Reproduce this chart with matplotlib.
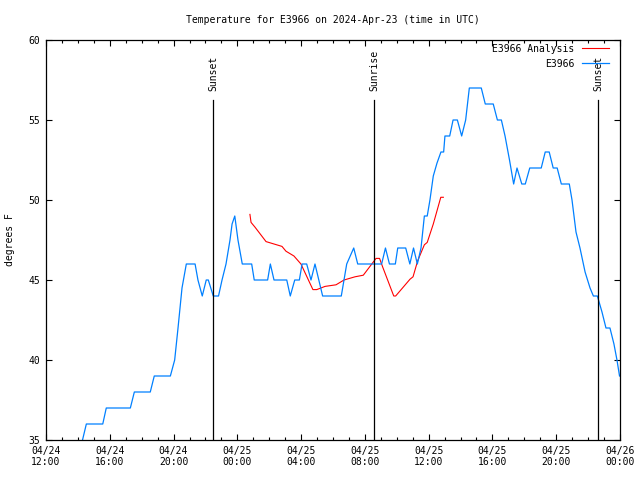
import matplotlib

matplotlib.use("Agg")

import matplotlib.pyplot as plt
from matplotlib.ticker import FixedLocator, MultipleLocator
import pandas as pd


BASE_TIME = pd.Timestamp("2024-04-24 12:00")

# hours since 04/24 12:00 UTC
obs_hours = [
    0.00, 2.13, 2.29, 2.53, 3.56, 3.78, 5.29, 5.54, 6.54, 6.79,
    7.80, 8.07, 8.28, 8.53, 8.80, 9.35, 9.53, 9.80, 10.05, 10.18,
    10.49, 10.82, 11.04, 11.29, 11.54, 11.67, 11.84, 12.04, 12.31, 12.90,
    13.06, 13.90, 14.07, 14.30, 15.10, 15.32, 15.60, 15.89, 16.06, 16.35,
    16.62, 16.87, 17.35, 18.52, 18.86, 19.30, 19.55, 21.05, 21.29, 21.54,
    21.91, 22.06, 22.56, 22.82, 23.05, 23.29, 23.52, 23.73, 23.91, 24.08,
    24.29, 24.52, 24.77, 24.94, 25.02, 25.32, 25.53, 25.80, 26.07, 26.32,
    26.55, 27.30, 27.55, 28.05, 28.31, 28.56, 28.79, 29.07, 29.33, 29.54,
    29.84, 30.06, 30.34, 31.06, 31.31, 31.56, 31.81, 32.06, 32.32, 32.82,
    32.99, 33.24, 33.49, 33.81, 34.12, 34.33, 34.58, 34.87, 35.12, 35.37,
    35.62, 35.81, 35.97,
]
obs_temps = [
    34, 34, 35, 36, 36, 37, 37, 38, 38, 39,
    39, 40, 42, 44.5, 46, 46, 45, 44, 45, 45,
    44, 44, 45, 46, 47.5, 48.5, 49, 47.5, 46, 46,
    45, 45, 46, 45, 45, 44, 45, 45, 46, 46,
    45, 46, 44, 44, 46, 47, 46, 46, 47, 46,
    46, 47, 47, 46, 47, 46, 47, 49, 49, 50,
    51.5, 52.3, 53, 53, 54, 54, 55, 55, 54, 55,
    57, 57, 56, 56, 55, 55, 54, 52.5, 51, 52,
    51, 51, 52, 52, 53, 53, 52, 52, 51, 51,
    50, 48, 47, 45.5, 44.5, 44, 44, 43, 42, 42,
    41, 40, 39,
]

analysis_hours = [
    12.79, 12.86, 13.11, 13.80, 14.30, 14.80, 15.05, 15.55, 15.99, 16.74,
    16.98, 17.50, 18.19, 18.69, 19.38, 19.90, 20.70, 20.92, 21.12, 21.81,
    21.93, 22.83, 23.02, 23.31, 23.73, 23.91, 24.29, 24.76, 24.92,
]
analysis_temps = [
    49.1, 48.6, 48.3, 47.4, 47.25, 47.1, 46.8, 46.5, 46.0, 44.4,
    44.4, 44.6, 44.7, 45.0, 45.2, 45.3, 46.35, 46.35, 45.8, 44.0,
    44.0, 45.05, 45.2, 46.2, 47.2, 47.35, 48.5, 50.17, 50.17,
]

sun_hours = [10.48, 20.58, 34.63]
sun_labels = ["Sunset", "Sunrise", "Sunset"]

STATION = "E3966"


def main() -> None:
    plt.rcParams["font.family"] = "DejaVu Sans Mono"
    plt.rcParams["font.size"] = 7

    fig = plt.figure(figsize=(6.4, 4.8), dpi=100)
    ax = fig.add_axes([46 / 640, 40 / 480, 574 / 640, 400 / 480])

    ax.plot(
        analysis_hours,
        analysis_temps,
        color="#ff0000",
        linewidth=0.8,
        label=f"{STATION} Analysis",
    )
    ax.plot(
        obs_hours,
        obs_temps,
        color="#0080ff",
        linewidth=0.9,
        label=STATION,
    )

    for hour, label in zip(sun_hours, sun_labels):
        ax.plot([hour, hour], [35, 56.25], color="black", linewidth=0.9)
        ax.text(
            hour,
            56.8,
            label,
            rotation=90,
            ha="center",
            va="bottom",
        )

    ax.set_xlim(0, 36)
    ax.set_ylim(35, 60)

    major = list(range(0, 37, 4))
    ax.xaxis.set_major_locator(FixedLocator(major))
    ax.xaxis.set_minor_locator(MultipleLocator(1))
    ax.set_xticklabels(
        [
            (BASE_TIME + pd.Timedelta(hours=h)).strftime("%m/%d\n%H:%M")
            for h in major
        ]
    )
    ax.yaxis.set_major_locator(MultipleLocator(5))

    ax.tick_params(
        which="both",
        direction="in",
        top=True,
        right=True,
        width=0.8,
        pad=4,
    )
    ax.tick_params(which="major", length=4)
    ax.tick_params(which="minor", length=2)
    for spine in ax.spines.values():
        spine.set_linewidth(0.9)

    ax.set_title(
        f"Temperature for {STATION} on 2024-Apr-23 (time in UTC)",
        fontsize=7,
        pad=12,
    )
    ax.set_ylabel("degrees F", labelpad=10)

    ax.legend(
        loc="upper right",
        bbox_to_anchor=(0.9878, 1.0),
        frameon=False,
        markerfirst=False,
        handlelength=2.8,
        labelspacing=0.5,
        borderaxespad=0.0,
    )

    fig.savefig("out.png", dpi=100)
    plt.close(fig)


if __name__ == "__main__":
    main()
